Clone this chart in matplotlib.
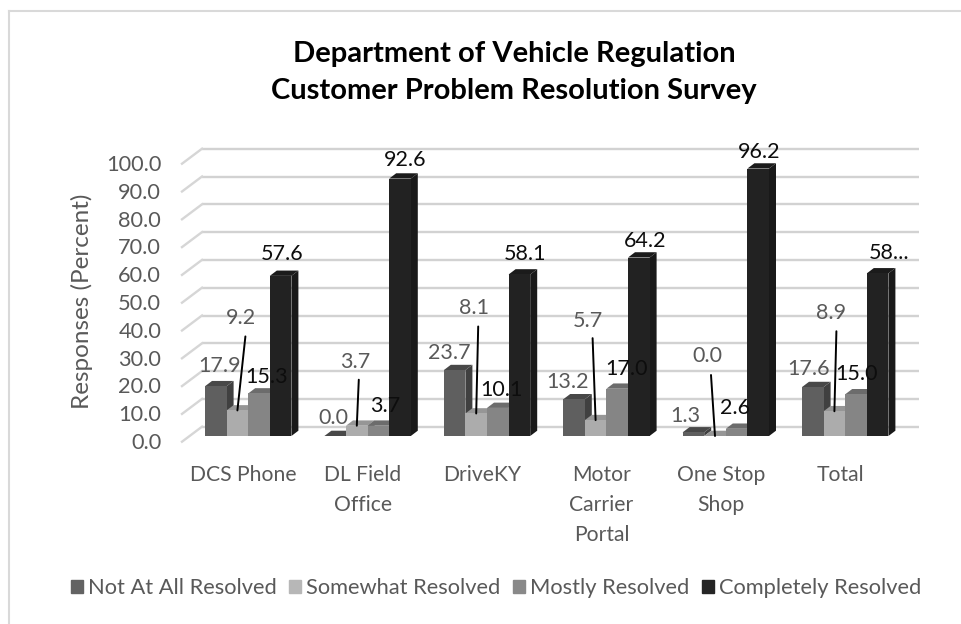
import numpy as np
import matplotlib
matplotlib.use("Agg")
import matplotlib.pyplot as plt
import matplotlib.transforms as mtransforms
from matplotlib.lines import Line2D
from matplotlib.patches import Patch

plt.rcParams['font.family'] = ['Lato', 'DejaVu Sans']

categories = ["DCS Phone", "DL Field\nOffice", "DriveKY", "Motor\nCarrier\nPortal", "One Stop\nShop", "Total"]
series_names = ["Not At All Resolved", "Somewhat Resolved", "Mostly Resolved", "Completely Resolved"]
not_at_all = [17.9, 0.0, 23.7, 13.2, 1.3, 17.6]
somewhat = [9.2, 3.7, 8.1, 5.7, 0.0, 8.9]
mostly = [15.3, 3.7, 10.1, 17.0, 2.6, 15.0]
completely = [57.6, 92.6, 58.1, 64.2, 96.2, 58.5]
completely_labels = ["57.6", "92.6", "58.1", "64.2", "96.2", "58..."]
y_ticks = np.arange(0, 101, 10)

# face, side and top colours of each series
front_colors = ["#5f5f5f", "#acacac", "#858585", "#222222"]
side_colors = ["#404040", "#808080", "#626262", "#191919"]
top_colors = ["#484848", "#969696", "#6c6c6c", "#1b1b1b"]
legend_colors = ["#636363", "#b7b7b7", "#898989", "#252525"]
label_colors = ["#595959", "#595959", "#0d0d0d", "#0d0d0d"]

# hand placed data labels, pixels away from the top of each bar
label_offsets = [
    [(4, 20), (-2, 18), (-5, 17), (-6, 17), (-8, 16), (-4, 18)],
    [(4, 92), (-2, 64), (-2, 105), (-8, 99), (-8, 80), (-3, 98)],
    [(8, 16), (7, 20), (4, 18), (9, 20), (-2, 21), (1, 20)],
    [(1, 22), (5, 19), (6, 20), (6, 17), (1, 17), (11, 20)],
]
leader_offsets = [(8, 74), (2, 46), (2, 87), (-3, 82), (-4, 61), (2, 80)]

# pixel layout of the chart
px_group = 119.4
px_bar = 21.6
px_per_unit = 2.78
px_left, px_right, px_base = 182, 918.5, 436
px_first_centre = 248.2

fig = plt.figure(figsize=(9.62, 6.24), dpi=100)
ax = fig.add_axes([px_left / 962, (624 - px_base) / 624,
                   (px_right - px_left) / 962, 100 * px_per_unit / 624])
ax.set_xlim((px_left - px_first_centre) / px_group, (px_right - px_first_centre) / px_group)
ax.set_ylim(0, 100)
for spine in ax.spines.values():
    spine.set_visible(False)


def x_px(n):
    return n / px_group


def y_px(n):
    return n / px_per_unit


# back wall grid lines and the short diagonal on the side wall
wall_dx, back_dy, front_dy = 20, 9.3, -5.7
for v in y_ticks:
    ax.plot([ax.get_xlim()[0] + x_px(wall_dx), ax.get_xlim()[1]], [v + y_px(back_dy)] * 2,
            color="#d2d2d2", lw=1.7, zorder=1, clip_on=False, solid_capstyle="butt")
    ax.plot([ax.get_xlim()[0], ax.get_xlim()[0] + x_px(wall_dx)], [v + y_px(front_dy), v + y_px(back_dy)],
            color="#d6d6d6", lw=1.7, zorder=1, clip_on=False)

all_values = [not_at_all, somewhat, mostly, completely]
x = np.arange(len(categories))
depth_x, depth_y = x_px(7), y_px(5.3)
bar_w = x_px(px_bar)

for s, values in enumerate(all_values):
    centres = x + (s - 1.5) * bar_w
    ax.bar(centres, values, width=bar_w, color=front_colors[s], zorder=2 + s * 0.1 + 0.05, clip_on=False)
    for c, v in zip(centres, values):
        x0, x1 = c - bar_w / 2, c + bar_w / 2
        # side then top of the fake 3d box
        ax.fill([x1, x1 + depth_x, x1 + depth_x, x1], [0, depth_y, v + depth_y, v],
                color=side_colors[s], lw=0, zorder=2 + s * 0.1, clip_on=False)
        ax.fill([x0, x1, x1 + depth_x, x0 + depth_x], [v, v, v + depth_y, v + depth_y],
                color=top_colors[s], lw=0, zorder=2 + s * 0.1, clip_on=False)

# data labels
for s, values in enumerate(all_values):
    centres = x + (s - 1.5) * bar_w
    for g, v in enumerate(values):
        text = completely_labels[g] if s == 3 else f"{v:.1f}"
        ax.annotate(text, xy=(centres[g], v), xytext=label_offsets[s][g], textcoords="offset pixels",
                    ha="center", va="center", fontsize=15.5, color=label_colors[s], zorder=5,
                    annotation_clip=False)

# leader lines for the somewhat resolved labels
for g, v in enumerate(somewhat):
    ax.annotate("", xy=(x[g] - 0.5 * bar_w, v), xytext=leader_offsets[g], textcoords="offset pixels",
                arrowprops=dict(arrowstyle="-", color="black", lw=1.4, shrinkA=0, shrinkB=0),
                zorder=4, annotation_clip=False)

ax.set_yticks(y_ticks)
ax.set_yticklabels([f"{v:.1f}" for v in y_ticks])
ax.set_xticks(x - x_px(5))
ax.set_xticklabels(categories, linespacing=1.62)
ax.tick_params(axis="y", length=0, pad=15, labelsize=15.7, labelcolor="#595959")
ax.tick_params(axis="x", length=0, pad=21, labelsize=15.2, labelcolor="#595959")
shift = mtransforms.Affine2D().translate(0, -5)
for lab in ax.get_yticklabels():
    lab.set_transform(lab.get_transform() + shift)

fig.text(82 / 962, 1 - 301 / 624, "Responses (Percent)", rotation=90, ha="center", va="center",
         fontsize=17.5, color="#595959")
fig.text(514 / 962, 1 - 72.5 / 624, "Department of Vehicle Regulation\nCustomer Problem Resolution Survey",
         ha="center", va="center", fontsize=21, fontweight="bold", color="black", linespacing=1.56)

handles = [Patch(color=c) for c in legend_colors]
fig.legend(handles, series_names, loc="center", bbox_to_anchor=(496 / 962, 1 - 588 / 624), ncol=4,
           frameon=False, fontsize=15.75, labelcolor="#595959", handlelength=0.55, handleheight=0.55,
           handletextpad=0.25, columnspacing=0.55, borderpad=0)

# chart area border, only the top and left edges show
fig.add_artist(Line2D([8.5 / 962, 8.5 / 962], [0, 1 - 10.5 / 624], color="#d9d9d9", lw=1.5))
fig.add_artist(Line2D([8.5 / 962, 1], [1 - 10.5 / 624, 1 - 10.5 / 624], color="#d9d9d9", lw=1.5))

plt.savefig("out.png", dpi=100)
